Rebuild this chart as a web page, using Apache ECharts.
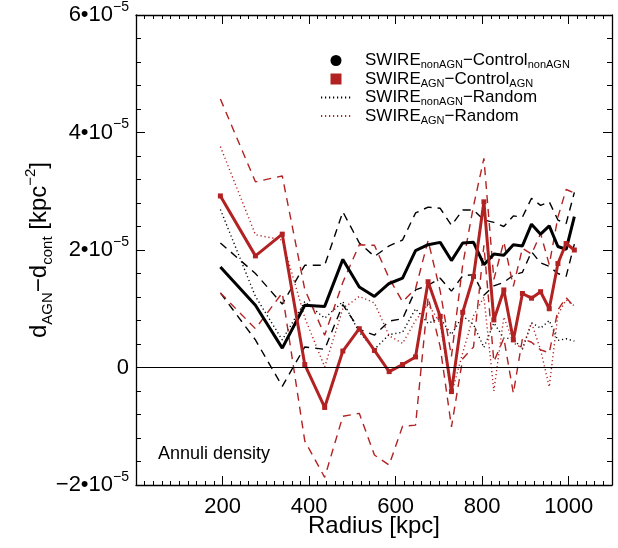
<!DOCTYPE html>
<html><head><meta charset="utf-8">
<script src="https://cdn.jsdelivr.net/npm/echarts@6/dist/echarts.min.js"></script>
<style>html,body{margin:0;padding:0;background:#fff}#c{width:618px;height:548px}</style>
</head><body><div id="c"></div>
<script>
// Annulus radius [kpc]
const radius = [195,276,338,390,436,478,516,551,585,616,646,675,703,729,755,780,804,827,850,872,893,914,935,955,975,994,1013];
// Density differences, in units of 1e-5 kpc^-2
const nonAgnControl   = [1.71,1.06,0.33,1.06,1.04,1.84,1.37,1.21,1.43,1.52,1.99,2.09,2.13,1.82,2.12,2.13,1.75,1.93,1.91,2.09,2.07,2.44,2.27,2.41,2.06,2.01,2.57];
const nonAgnControlHi = [2.12,1.60,1.08,1.74,1.74,2.65,2.12,1.89,2.07,2.17,2.63,2.73,2.71,2.42,2.68,2.68,2.51,2.47,2.40,2.58,2.56,2.88,2.76,2.82,2.51,2.45,2.98];
const nonAgnControlLo = [1.27,0.47,-0.32,0.35,0.31,1.07,0.65,0.55,0.79,0.83,1.32,1.40,1.52,1.30,1.56,1.58,1.23,1.39,1.45,1.57,1.62,1.97,1.78,1.72,1.60,1.55,2.10];
const agnControl      = [2.92,1.90,2.27,0.05,-0.68,0.28,0.66,0.29,-0.07,0.05,0.18,1.46,0.87,-0.41,0.94,1.55,2.82,0.81,1.32,0.47,1.26,1.18,1.29,1.00,1.77,2.11,2.00];
const agnControlHi    = [4.57,3.16,3.26,1.33,0.55,1.45,2.09,2.08,1.52,1.12,1.34,2.16,1.30,0.19,1.75,2.75,3.56,1.50,2.14,1.38,2.03,1.93,2.28,1.75,2.56,3.03,2.97];
const agnControlLo    = [1.27,0.66,1.27,-1.25,-1.87,-0.83,-0.78,-1.49,-1.66,-1.00,-0.98,1.20,0.35,-1.01,0.15,0.35,2.08,0.10,0.50,-0.44,0.49,0.43,0.30,0.25,0.98,1.19,1.03];
const nonAgnRandom    = [2.69,1.21,0.47,1.12,0.84,1.12,0.60,0.31,0.56,0.60,1.00,0.75,0.84,0.56,0.88,0.73,0.34,0.76,0.50,0.49,0.31,0.76,0.67,0.80,0.46,0.49,0.45];
const agnRandom       = [3.76,2.26,2.17,0.85,0.01,1.00,1.21,1.10,0.54,0.41,0.80,1.08,0.75,-0.45,0.25,0.88,1.20,-0.40,0.86,0.42,0.33,0.76,0.30,-0.33,0.90,1.15,1.05];

const yTicks = [-2, 0, 2, 4, 6];          // ×10^-5
const xTickLabels = [200, 400, 600, 800, 1000];
const legendLabels = {
  nonAgnControl: '{n|SWIRE}{s|nonAGN}{n|\u2212Control}{s|nonAGN}',
  agnControl: '{n|SWIRE}{s|AGN}{n|\u2212Control}{s|AGN}',
  nonAgnRandom: '{n|SWIRE}{s|nonAGN}{n|\u2212Random}',
  agnRandom: '{n|SWIRE}{s|AGN}{n|\u2212Random}'
};
const xName = 'Radius [kpc]';
const yName = '{n|d}{s|AGN}{n|\u2212d}{s|cont}{n| [kpc}{p|\u22122}{n|]}';
const note = 'Annuli density';

const FONT = 'Liberation Sans, Arial, Helvetica, sans-serif';
const RED = '#b22222';
const pairs = arr => radius.map((r, i) => [r, arr[i]]);

const chart = echarts.init(document.getElementById('c'), null, {renderer: 'canvas'});

const axisLineOn = {show: true, onZero: false, lineStyle: {color: '#000', width: 1.3}};
function xAx(pos, major, labels) {
  return {
    type: 'value', min: 0, max: 1100, interval: major ? 200 : 20, position: pos,
    axisLine: major ? axisLineOn : {show: false, onZero: false},
    axisTick: {show: true, inside: true, length: major ? 9 : 4, lineStyle: {color: '#000', width: 1}},
    axisLabel: labels ? {
      show: true, fontFamily: FONT, fontSize: 22, color: '#000', margin: 11,
      formatter: v => (xTickLabels.indexOf(v) >= 0 ? String(v) : '')
    } : {show: false},
    splitLine: {show: false},
    name: labels ? xName : '', nameLocation: 'middle', nameGap: 29, nameMoveOverlap: false,
    nameTextStyle: {fontFamily: FONT, fontSize: 24, color: '#000'}
  };
}
function yAx(pos, labels) {
  return {
    type: 'value', min: -2, max: 6, interval: 2, position: pos,
    axisLine: axisLineOn,
    axisTick: {show: true, inside: true, length: 9, lineStyle: {color: '#000', width: 1}},
    minorTick: {show: true, splitNumber: 5, length: 5, lineStyle: {color: '#000', width: 1}},
    axisLabel: labels ? {
      show: true, margin: 7, color: '#000',
      formatter: v => (yTicks.indexOf(Math.round(v)) < 0 ? '' :
        (Math.round(v) === 0 ? '{n|0}' : '{n|' + (v < 0 ? '\u2212' : '') + Math.abs(Math.round(v)) + '\u202210}{p|\u22125}')),
      rich: {
        n: {fontFamily: FONT, fontSize: 22, color: '#000', lineHeight: 30, verticalAlign: 'middle'},
        p: {fontFamily: FONT, fontSize: 14, color: '#000', lineHeight: 14, verticalAlign: 'top'}
      }
    } : {show: false},
    splitLine: {show: false},
    name: labels ? yName : '', nameLocation: 'middle', nameRotate: 90, nameGap: 81, nameMoveOverlap: false,
    nameTextStyle: {
      rich: {
        n: {fontFamily: FONT, fontSize: 24, color: '#000', lineHeight: 32, verticalAlign: 'middle'},
        s: {fontFamily: FONT, fontSize: 15, color: '#000', lineHeight: 15, verticalAlign: 'bottom'},
        p: {fontFamily: FONT, fontSize: 15, color: '#000', lineHeight: 15, verticalAlign: 'top'}
      }
    }
  };
}

function line(name, data, color, width, type, extra) {
  return Object.assign({
    name: name, type: 'line', xAxisIndex: 0, yAxisIndex: 0, data: pairs(data),
    symbol: 'none', lineStyle: {color: color, width: width, type: type}, itemStyle: {color: color},
    silent: true, animation: false
  }, extra || {});
}

chart.setOption({
  animation: false,
  grid: {left: 136, right: 6, top: 15, bottom: 63, containLabel: false, outerBoundsMode: 'none'},
  xAxis: [xAx('bottom', true, true), xAx('top', true, false), xAx('bottom', false, false), xAx('top', false, false)],
  yAxis: [yAx('left', true), yAx('right', false)],
  legend: {
    orient: 'vertical', left: 315, top: 47, itemWidth: 30, itemHeight: 11, itemGap: 0,
    selectedMode: false,
    data: [
      {name: 'nonAgnControl', icon: 'circle'},
      {name: 'agnControl', icon: 'path://M0,0H10V10H0Z'},
      {name: 'nonAgnRandom', itemStyle: {opacity: 0}},
      {name: 'agnRandom', itemStyle: {opacity: 0}}
    ],
    formatter: n => legendLabels[n],
    textStyle: {
      padding: [0, 0, 0, 9],
      rich: {
        n: {fontFamily: FONT, fontSize: 17, color: '#000', lineHeight: 20, verticalAlign: 'middle'},
        s: {fontFamily: FONT, fontSize: 11, color: '#000', lineHeight: 11, verticalAlign: 'bottom'}
      }
    }
  },
  graphic: [{
    type: 'text', left: 158, top: 445,
    style: {text: note, fontFamily: FONT, fontSize: 18, fill: '#000'}
  }],
  series: [
    line('nonAgnRandom', nonAgnRandom, '#000', 1.4, [1.2, 2.8]),
    line('agnRandom', agnRandom, RED, 1.4, [1.2, 2.8]),
    line('nonAgnControlHi', nonAgnControlHi, '#000', 1.4, [8, 6]),
    line('nonAgnControlLo', nonAgnControlLo, '#000', 1.4, [8, 6]),
    line('agnControlHi', agnControlHi, RED, 1.4, [8, 6]),
    line('agnControlLo', agnControlLo, RED, 1.4, [8, 6], {
      markLine: {silent: true, symbol: ['none', 'none'], label: {show: false},
        lineStyle: {color: '#000', width: 1.2, type: 'solid'}, data: [{yAxis: 0}]}
    }),
    line('nonAgnControl', nonAgnControl, '#000', 3, 'solid'),
    line('agnControl', agnControl, RED, 3, 'solid', {symbol: 'rect', symbolSize: 5, showSymbol: true, showAllSymbol: true})
  ]
});
</script></body></html>
